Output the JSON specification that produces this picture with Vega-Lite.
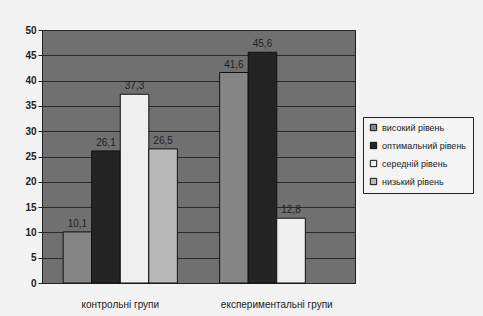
{
  "$schema": "https://vega.github.io/schema/vega-lite/v6.json",
  "width": 313,
  "height": 253,
  "autosize": {"type": "none"},
  "padding": {"left": 42, "top": 30, "right": 128, "bottom": 33},
  "background": "#f2f2f2",
  "config": {
    "font": "Liberation Sans",
    "view": {"fill": "#707070", "stroke": "#222", "strokeWidth": 1},
    "locale": {"number": {"decimal": ",", "thousands": " ", "grouping": [3], "currency": ["", ""]}}
  },
  "data": {
    "values": [
      {"group": "контрольні групи", "level": "високий рівень", "value": 10.1},
      {"group": "контрольні групи", "level": "оптимальний рівень", "value": 26.1},
      {"group": "контрольні групи", "level": "середній рівень", "value": 37.3},
      {"group": "контрольні групи", "level": "низький рівень", "value": 26.5},
      {"group": "експериментальні групи", "level": "високий рівень", "value": 41.6},
      {"group": "експериментальні групи", "level": "оптимальний рівень", "value": 45.6},
      {"group": "експериментальні групи", "level": "середній рівень", "value": 12.8}
    ]
  },
  "encoding": {
    "x": {
      "field": "group", "type": "nominal",
      "sort": ["контрольні групи", "експериментальні групи"],
      "scale": {"paddingInner": 0.27, "paddingOuter": 0.135},
      "axis": {"title": null, "labelAngle": 0, "labelFontSize": 10, "labelColor": "#222", "ticks": false, "labelPadding": 16, "domainColor": "#222"}
    },
    "xOffset": {
      "field": "level", "type": "nominal",
      "sort": ["високий рівень", "оптимальний рівень", "середній рівень", "низький рівень"]
    },
    "y": {
      "field": "value", "type": "quantitative",
      "scale": {"domain": [0, 50]},
      "axis": {"title": null, "values": [0,5,10,15,20,25,30,35,40,45,50], "labelFontSize": 10, "labelColor": "#222", "labelFontWeight": "bold", "gridColor": "#2a2a2a", "gridWidth": 1, "tickColor": "#222", "tickSize": 4, "labelPadding": 2, "domainColor": "#222", "format": "d"}
    }
  },
  "layer": [
    {
      "mark": {"type": "bar", "stroke": "#111", "strokeWidth": 1},
      "encoding": {
        "color": {
          "field": "level", "type": "nominal",
          "sort": ["високий рівень", "оптимальний рівень", "середній рівень", "низький рівень"],
          "scale": {"domain": ["високий рівень", "оптимальний рівень", "середній рівень", "низький рівень"], "range": ["#858585", "#242424", "#efefef", "#b8b8b8"]},
          "legend": {
            "title": null, "orient": "none", "legendX": 321, "legendY": 87,
            "symbolType": "square", "symbolSize": 40, "symbolStrokeColor": "#111", "symbolStrokeWidth": 1,
            "labelFontSize": 9, "labelColor": "#222", "rowPadding": 7,
            "strokeColor": "#222", "fillColor": "#f4f4f4", "padding": 6
          }
        }
      }
    },
    {
      "mark": {"type": "text", "dy": -8, "fontSize": 10, "color": "#222"},
      "encoding": {
        "text": {"field": "value", "type": "quantitative", "format": ".1f"}
      }
    }
  ]
}
